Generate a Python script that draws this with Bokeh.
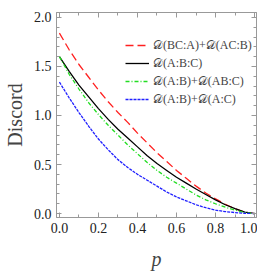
from bokeh.plotting import figure
from bokeh.models import LinearAxis, Range1d, FixedTicker, Legend, LegendItem, CustomJSTickFormatter
from bokeh.embed import file_html
from bokeh.resources import INLINE

p_vals = [0.0, 0.05, 0.1, 0.15, 0.2, 0.25, 0.3, 0.35, 0.4, 0.45, 0.5,
          0.55, 0.6, 0.65, 0.7, 0.75, 0.8, 0.85, 0.9, 0.95, 1.0]
d_bca_acb = [1.84, 1.67, 1.52, 1.39, 1.26, 1.14, 1.03, 0.93, 0.82, 0.72, 0.62,
             0.53, 0.44, 0.36, 0.28, 0.21, 0.15, 0.095, 0.05, 0.015, 0.0]
d_abc = [1.60, 1.45, 1.31, 1.19, 1.07, 0.96, 0.86, 0.77, 0.68, 0.59, 0.51,
         0.44, 0.37, 0.31, 0.25, 0.195, 0.14, 0.09, 0.05, 0.015, 0.0]
d_ab_abc = [1.60, 1.42, 1.27, 1.13, 1.01, 0.90, 0.80, 0.70, 0.61, 0.52, 0.44,
            0.37, 0.31, 0.25, 0.19, 0.14, 0.10, 0.065, 0.035, 0.01, 0.0]
d_ab_ac = [1.34, 1.18, 1.03, 0.89, 0.76, 0.65, 0.55, 0.47, 0.40, 0.34, 0.28,
           0.22, 0.17, 0.13, 0.09, 0.06, 0.035, 0.02, 0.01, 0.003, 0.0]
labels = ["𝒟(BC:A)+𝒟(AC:B)", "𝒟(A:B:C)", "𝒟(A:B)+𝒟(AB:C)", "𝒟(A:B)+𝒟(A:C)"]
x_ticks = [0.0, 0.2, 0.4, 0.6, 0.8, 1.0]
y_ticks = [0.0, 0.5, 1.0, 1.5, 2.0]
x_minor = [0.1, 0.3, 0.5, 0.7, 0.9]
y_minor = [0.1, 0.2, 0.3, 0.4, 0.6, 0.7, 0.8, 0.9, 1.1, 1.2, 1.3, 1.4, 1.6, 1.7, 1.8, 1.9]

SERIF = "Liberation Serif"
AX = "#999999"

p = figure(width=242, height=265, frame_width=200, frame_height=205,
           min_border_left=41, min_border_right=1, min_border_top=12, min_border_bottom=48,
           x_range=Range1d(-0.015, 1.01), y_range=Range1d(-0.04, 2.05),
           output_backend="svg", toolbar_location=None, x_axis_location=None, y_axis_location=None)
p.grid.visible = False
p.outline_line_color = AX
p.background_fill_color = "white"

def style(ax, ticks, minor, show):
    ax.ticker = FixedTicker(ticks=ticks, minor_ticks=minor)
    if show:
        ax.formatter = CustomJSTickFormatter(code="return tick.toFixed(1);")
    else:
        ax.formatter = CustomJSTickFormatter(code="return '';")
    ax.axis_line_color = AX
    ax.major_tick_line_color = AX
    ax.minor_tick_line_color = AX
    ax.major_tick_in = 5
    ax.major_tick_out = 0
    ax.minor_tick_in = 3
    ax.minor_tick_out = 0
    ax.major_label_text_font = SERIF
    ax.major_label_text_font_size = "14px"
    ax.major_label_text_color = "#222222"
    ax.major_label_standoff = 5 if show else 0
    ax.axis_label_text_font = SERIF
    ax.axis_label_text_font_style = "normal"
    ax.axis_label_text_font_size = "20px"

xb = LinearAxis(axis_label="p")
style(xb, x_ticks, x_minor, True)
xb.axis_label_text_font_style = "italic"
xb.axis_label_standoff = 12
yl = LinearAxis(axis_label="Discord")
style(yl, y_ticks, y_minor, True)
yl.axis_label_standoff = 5
xt = LinearAxis()
style(xt, x_ticks, x_minor, False)
yr = LinearAxis()
style(yr, y_ticks, y_minor, False)
p.add_layout(xb, "below")
p.add_layout(yl, "left")
p.add_layout(xt, "above")
p.add_layout(yr, "right")

r1 = p.line(p_vals, d_bca_acb, line_color="#ff2020", line_width=1.3, line_dash="8 4")
r2 = p.line(p_vals, d_abc, line_color="black", line_width=1.3)
r3 = p.line(p_vals, d_ab_abc, line_color="#22dd22", line_width=1.3, line_dash="4 2 1 2")
r4 = p.line(p_vals, d_ab_ac, line_color="#2020ff", line_width=1.3, line_dash="3 1")

legend = Legend(items=[LegendItem(label=l, renderers=[r]) for l, r in zip(labels, [r1, r2, r3, r4])],
                location=(69, 109), label_text_font=SERIF, label_text_font_size="12px",
                label_height=18, glyph_height=18, glyph_width=24, spacing=0, padding=0, margin=0,
                border_line_color=None, background_fill_alpha=0, label_standoff=4)
p.add_layout(legend, "center")

open("out.html", "w").write(file_html(p, INLINE))
